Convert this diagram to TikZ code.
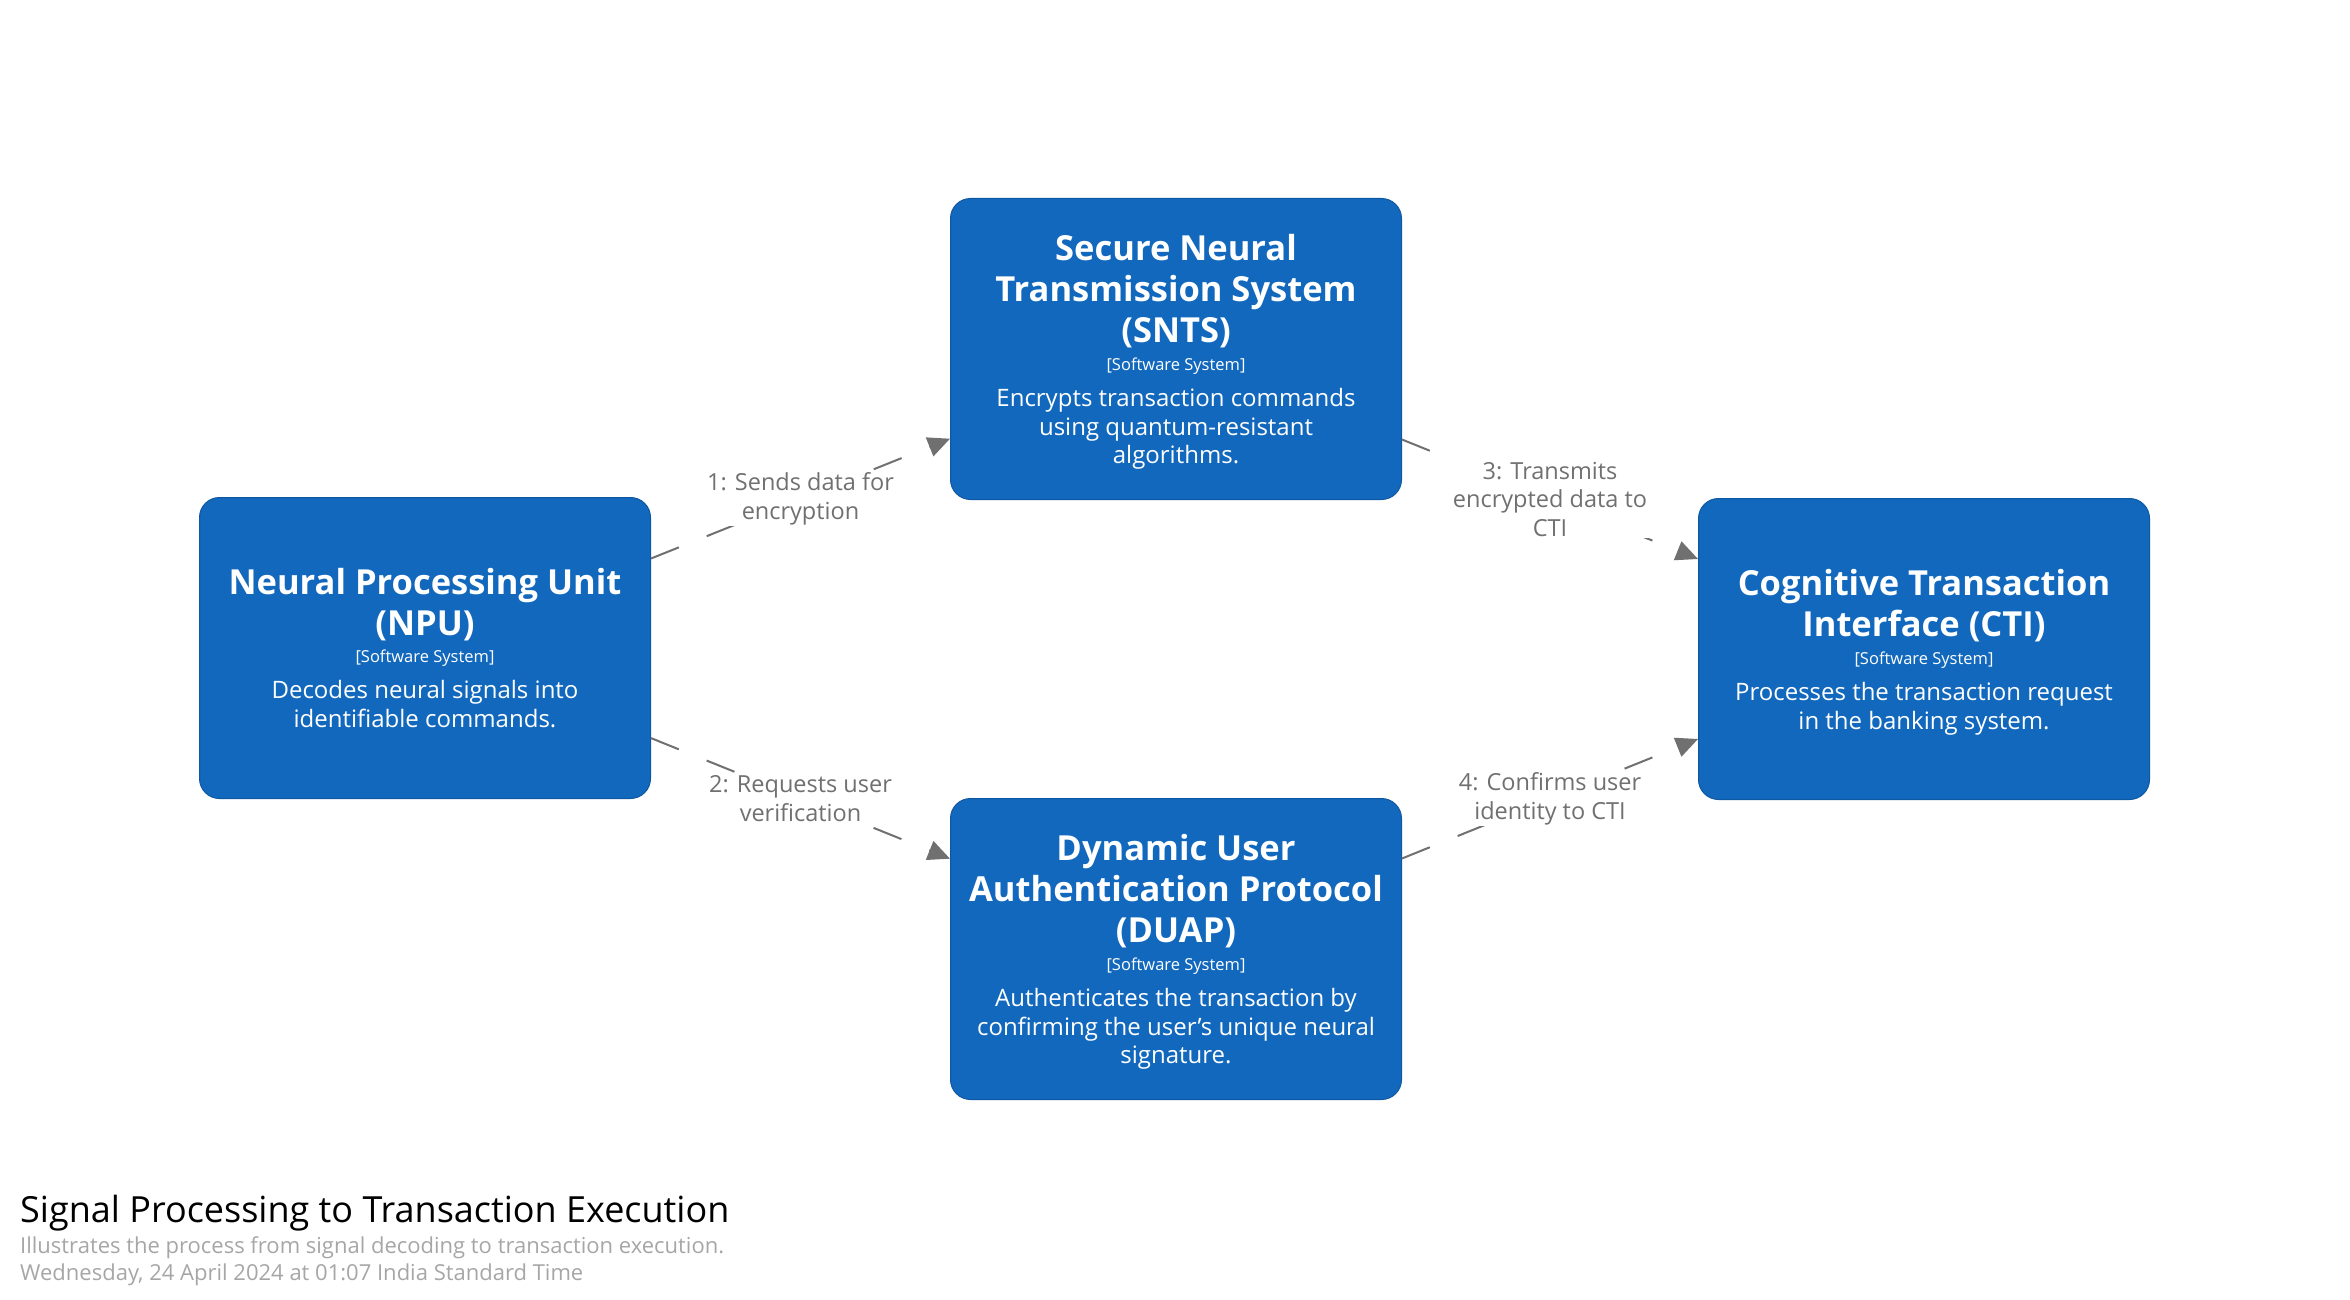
\documentclass[tikz,border=0pt]{standalone}
\usepackage{fontspec}
\setmainfont{Open Sans}
\usetikzlibrary{arrows.meta}
\definecolor{sysblue}{HTML}{1168BD}
\definecolor{relgray}{HTML}{707070}
\definecolor{notegray}{HTML}{A6A6A6}
\newcommand{\boxname}{\fontsize{34.5}{41}\selectfont\bfseries}
\newcommand{\boxtype}{\fontsize{16.5}{27.7}\selectfont\mdseries}
\newcommand{\boxdesc}{\fontsize{24}{28.8}\selectfont\mdseries}
\newcommand{\boxlower}{\rule{0pt}{32.5pt}}
\begin{document}
\begin{tikzpicture}[x=1pt,y=-1pt,
	system/.style={rectangle,rounded corners=20pt,fill=sysblue,draw=sysblue!85!black,line width=1pt,text=white,minimum width=451pt,minimum height=301pt,text width=440pt,align=flush center,inner sep=0pt},
	rel/.style={draw=relgray,line width=2pt,dash pattern=on 30pt off 30pt,-{Triangle[length=22pt,width=20pt]}},
	rellabel/.style={fill=white,text=relgray,inner xsep=3pt,inner ysep=1pt,align=flush center,font=\fontsize{23.5}{28.6}\selectfont}]
	
	\useasboundingbox (0,0) rectangle (2350,1300);
	
	%systems
	\node[system] (npu) at (425,648) {\boxname Neural Processing Unit\\(NPU)\par\boxtype [Software System]\par\vspace{7pt}\boxdesc Decodes neural signals into\\identifiable commands.\par};
	\node[system] (snts) at (1176,349) {\boxname\boxlower Secure Neural\\Transmission System\\(SNTS)\par\boxtype [Software System]\par\vspace{7pt}\boxdesc Encrypts transaction commands\\using quantum-resistant\\algorithms.\par};
	\node[system] (cti) at (1924,649) {\boxname\boxlower Cognitive Transaction\\Interface (CTI)\par\boxtype [Software System]\par\vspace{7pt}\boxdesc Processes the transaction request\\in the banking system.\par};
	\node[system] (duap) at (1176,949) {\boxname\boxlower Dynamic User\\Authentication Protocol\\(DUAP)\par\boxtype [Software System]\par\vspace{7pt}\boxdesc Authenticates the transaction by\\confirming the user’s unique neural\\signature.\par};
	
	%arrows
	\draw[rel] (npu) -- node[rellabel] (l1) {1: Sends data for\\encryption} (snts);
	\draw[rel] (npu) -- node[rellabel] (l2) {2: Requests user\\verification} (duap);
	\draw[rel] (snts) -- node[rellabel] (l3) {3: Transmits\\encrypted data to\\CTI} (cti);
	\draw[rel] (duap) -- node[rellabel] (l4) {4: Confirms user\\identity to CTI} (cti);
	
	%title
	\node[anchor=base west,inner sep=0pt,font=\fontsize{36}{42}\selectfont] (title) at (20,1222.7) {Signal Processing to Transaction Execution};
	\node[anchor=base west,inner sep=0pt,text=notegray,font=\fontsize{22}{26}\selectfont] (subtitle) at (20,1253) {Illustrates the process from signal decoding to transaction execution.};
	\node[anchor=base west,inner sep=0pt,text=notegray,font=\fontsize{22}{26}\selectfont] (date) at (20,1280) {Wednesday, 24 April 2024 at 01:07 India Standard Time};
\end{tikzpicture}
\end{document}
